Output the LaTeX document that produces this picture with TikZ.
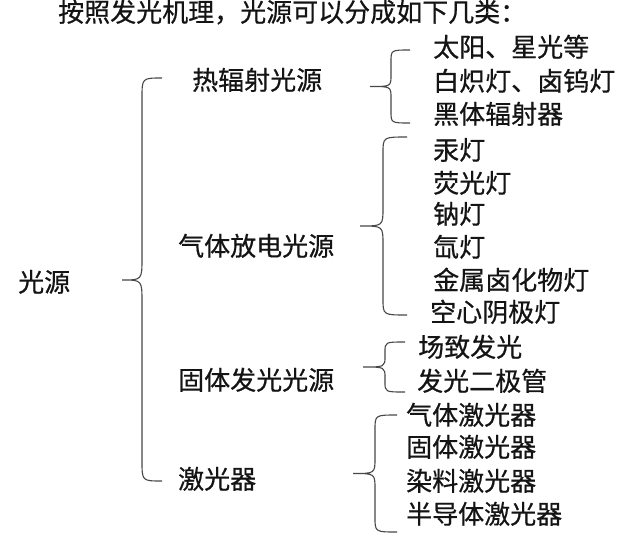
\documentclass[tikz,border=0pt]{standalone}
\usepackage{fontspec}
\usepackage{tikz}
\newfontfamily\cjk[FakeBold=0.6]{Noto Sans CJK SC}

\begin{document}
\begin{tikzpicture}[x=1pt, y=-1pt, every node/.style={font=\cjk\fontsize{26}{30}\selectfont, color=black!92, inner sep=0pt, anchor=west, text height=0.82em, text depth=0.08em}, brace line/.style={draw=black!72, line width=1.1pt}]
\useasboundingbox (0,0) rectangle (626,544);

\node (title) at (58, 18) {按照发光机理，光源可以分成如下几类：};

\node (light source) at (18, 288) {光源};

\node (thermal) at (192, 86) {热辐射光源};
\node (gas discharge) at (178, 252) {气体放电光源};
\node (solid state) at (178, 386) {固体发光光源};
\node (laser) at (178, 485) {激光器};

% main brace
\draw[brace line] (162,78) .. controls (142,78) .. (142,98) -- (142,258) .. controls (142,280) .. (122,280) .. controls (142,280) .. (142,302) -- (142,461) .. controls (142,481) .. (162,481);

% thermal
\draw[brace line] (410,50) .. controls (391,50) .. (391,62) -- (391,75) .. controls (391,86.5) .. (370,86.5) .. controls (391,86.5) .. (391,98) -- (391,111) .. controls (391,123) .. (410,123);
\node (sun) at (433, 53) {太阳、星光等};
\node (incandescent) at (433, 87) {白炽灯、卤钨灯};
\node (black body) at (433, 120) {黑体辐射器};

% gas discharge
\draw[brace line] (407,137) .. controls (383,137) .. (383,153) -- (383,208) .. controls (383,226) .. (360,226) .. controls (383,226) .. (383,244) -- (383,299) .. controls (383,315) .. (407,315);
\node (mercury) at (433, 156) {汞灯};
\node (fluorescent) at (433, 189) {荧光灯};
\node (sodium) at (433, 220) {钠灯};
\node (xenon) at (433, 253) {氙灯};
\node (metal halide) at (433, 286) {金属卤化物灯};
\node (hollow cathode) at (430, 318) {空心阴极灯};

% solid state
\draw[brace line] (405,342) .. controls (385,342) .. (385,352) -- (385,356) .. controls (385,367) .. (363,367) .. controls (385,367) .. (385,378) -- (385,382) .. controls (385,392) .. (405,392);
\node (field) at (418, 353) {场致发光};
\node (led) at (417, 387) {发光二极管};

% laser
\draw[brace line] (397,415) .. controls (375,415) .. (375,430) -- (375,458) .. controls (375,473.5) .. (353,473.5) .. controls (375,473.5) .. (375,489) -- (375,517) .. controls (375,532) .. (397,532);
\node (gas laser) at (406, 421) {气体激光器};
\node (solid laser) at (406, 453) {固体激光器};
\node (dye laser) at (406, 487) {染料激光器};
\node (semiconductor laser) at (406, 520) {半导体激光器};
\end{tikzpicture}
\end{document}
